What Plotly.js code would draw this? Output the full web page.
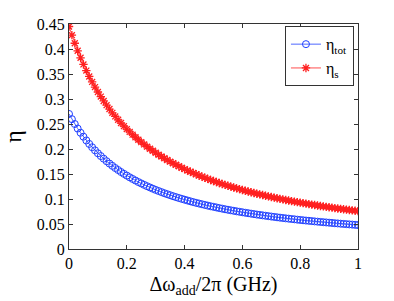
<!DOCTYPE html>
<html>
<head>
<meta charset="utf-8">
<script src="https://cdn.plot.ly/plotly-3.0.1.min.js"></script>
<style>html,body{margin:0;padding:0;background:#fff;}#chart{width:394px;height:301px;}</style>
</head>
<body>
<div id="chart"></div>
<script>
var freqGHz = [0,0.01,0.02,0.03,0.04,0.05,0.06,0.07,0.08,0.09,0.10,0.11,0.12,0.13,0.14,0.15,0.16,0.17,0.18,0.19,0.20,0.21,0.22,0.23,0.24,0.25,0.26,0.27,0.28,0.29,0.30,0.31,0.32,0.33,0.34,0.35,0.36,0.37,0.38,0.39,0.40,0.41,0.42,0.43,0.44,0.45,0.46,0.47,0.48,0.49,0.50,0.51,0.52,0.53,0.54,0.55,0.56,0.57,0.58,0.59,0.60,0.61,0.62,0.63,0.64,0.65,0.66,0.67,0.68,0.69,0.70,0.71,0.72,0.73,0.74,0.75,0.76,0.77,0.78,0.79,0.80,0.81,0.82,0.83,0.84,0.85,0.86,0.87,0.88,0.89,0.90,0.91,0.92,0.93,0.94,0.95,0.96,0.97,0.98,0.99,1.00];

var etaTot = [0.2701,0.2597,0.2500,0.2409,0.2325,0.2246,0.2171,0.2101,0.2035,0.1973,0.1914,0.1859,0.1806,0.1756,0.1709,0.1663,0.1620,0.1580,0.1540,0.1503,0.1468,0.1434,0.1401,0.1370,0.1339,0.1311,0.1283,0.1256,0.1231,0.1206,0.1182,0.1160,0.1138,0.1116,0.1096,0.1076,0.1056,0.1038,0.1020,0.1003,0.0986,0.0970,0.0954,0.0938,0.0923,0.0909,0.0895,0.0881,0.0868,0.0855,0.0843,0.0831,0.0818,0.0807,0.0795,0.0785,0.0774,0.0764,0.0754,0.0744,0.0735,0.0725,0.0716,0.0707,0.0698,0.0689,0.0681,0.0673,0.0665,0.0657,0.0649,0.0642,0.0634,0.0627,0.0620,0.0613,0.0607,0.0600,0.0594,0.0587,0.0581,0.0575,0.0569,0.0564,0.0558,0.0552,0.0547,0.0541,0.0536,0.0531,0.0526,0.0521,0.0515,0.0511,0.0506,0.0501,0.0497,0.0492,0.0488,0.0483,0.0479];

var etaS = [0.4450,0.4277,0.4115,0.3964,0.3824,0.3692,0.3568,0.3451,0.3342,0.3238,0.3140,0.3048,0.2961,0.2877,0.2799,0.2723,0.2652,0.2584,0.2519,0.2457,0.2398,0.2342,0.2287,0.2235,0.2185,0.2137,0.2092,0.2047,0.2005,0.1964,0.1924,0.1886,0.1850,0.1814,0.1780,0.1747,0.1715,0.1685,0.1655,0.1626,0.1598,0.1571,0.1545,0.1519,0.1494,0.1470,0.1447,0.1424,0.1403,0.1381,0.1360,0.1340,0.1320,0.1301,0.1282,0.1264,0.1247,0.1230,0.1213,0.1197,0.1181,0.1165,0.1150,0.1135,0.1120,0.1106,0.1092,0.1079,0.1065,0.1052,0.1040,0.1027,0.1015,0.1003,0.0992,0.0980,0.0969,0.0958,0.0948,0.0937,0.0927,0.0917,0.0907,0.0898,0.0888,0.0879,0.0870,0.0861,0.0852,0.0843,0.0835,0.0827,0.0818,0.0810,0.0802,0.0795,0.0787,0.0780,0.0772,0.0765,0.0758];

var seriesNames = ['η<sub>tot</sub>', 'η<sub>s</sub>'];
var xTickVals = [0, 0.2, 0.4, 0.6, 0.8, 1];
var yTickVals = [0, 0.05, 0.1, 0.15, 0.2, 0.25, 0.3, 0.35, 0.4, 0.45];

var fontFam = 'Liberation Serif';
var axisCol = '#333333';

var traces = [
  {x: freqGHz, y: etaTot, name: seriesNames[0], type: 'scatter', mode: 'lines+markers',
   line: {color: '#2040ff', width: 0.8},
   marker: {symbol: 'circle-open', size: 7, color: '#2040ff', line: {width: 1, color: '#2040ff'}}},
  {x: freqGHz, y: etaS, name: seriesNames[1], type: 'scatter', mode: 'lines+markers',
   line: {color: '#ff2020', width: 0.8},
   marker: {symbol: 'asterisk-open', size: 7, color: '#ff2020', line: {width: 1.3, color: '#ff2020'}}}
];

var layout = {
  width: 394, height: 301,
  margin: {l: 69, r: 36, t: 24, b: 52},
  paper_bgcolor: '#ffffff', plot_bgcolor: '#ffffff',
  font: {family: fontFam, size: 15, color: '#000'},
  showlegend: true,
  legend: {x: 0.986, xanchor: 'right', y: 0.99, yanchor: 'top',
           bgcolor: '#ffffff', bordercolor: axisCol, borderwidth: 1,
           font: {family: fontFam, size: 16, color: '#000'},
           itemwidth: 30, tracegroupgap: 0},
  xaxis: {range: [0, 1], tickvals: xTickVals, ticktext: xTickVals.map(String),
          ticks: 'inside', ticklen: 4, tickcolor: axisCol, tickwidth: 1,
          showline: true, linecolor: axisCol, linewidth: 1, mirror: 'ticks',
          showgrid: false, zeroline: false,
          tickfont: {family: fontFam, size: 16},
          title: {text: 'Δω<sub>add</sub>/2π (GHz)', font: {family: fontFam, size: 20}, standoff: 5}},
  yaxis: {range: [0, 0.45], tickvals: yTickVals, ticktext: yTickVals.map(String),
          ticks: 'inside', ticklen: 4, tickcolor: axisCol, tickwidth: 1,
          showline: true, linecolor: axisCol, linewidth: 1, mirror: 'ticks',
          showgrid: false, zeroline: false,
          tickfont: {family: fontFam, size: 16},
          title: {text: 'η', font: {family: fontFam, size: 24}, standoff: 14}}
};

Plotly.newPlot('chart', traces, layout, {staticPlot: true, displayModeBar: false});
</script>
</body>
</html>
